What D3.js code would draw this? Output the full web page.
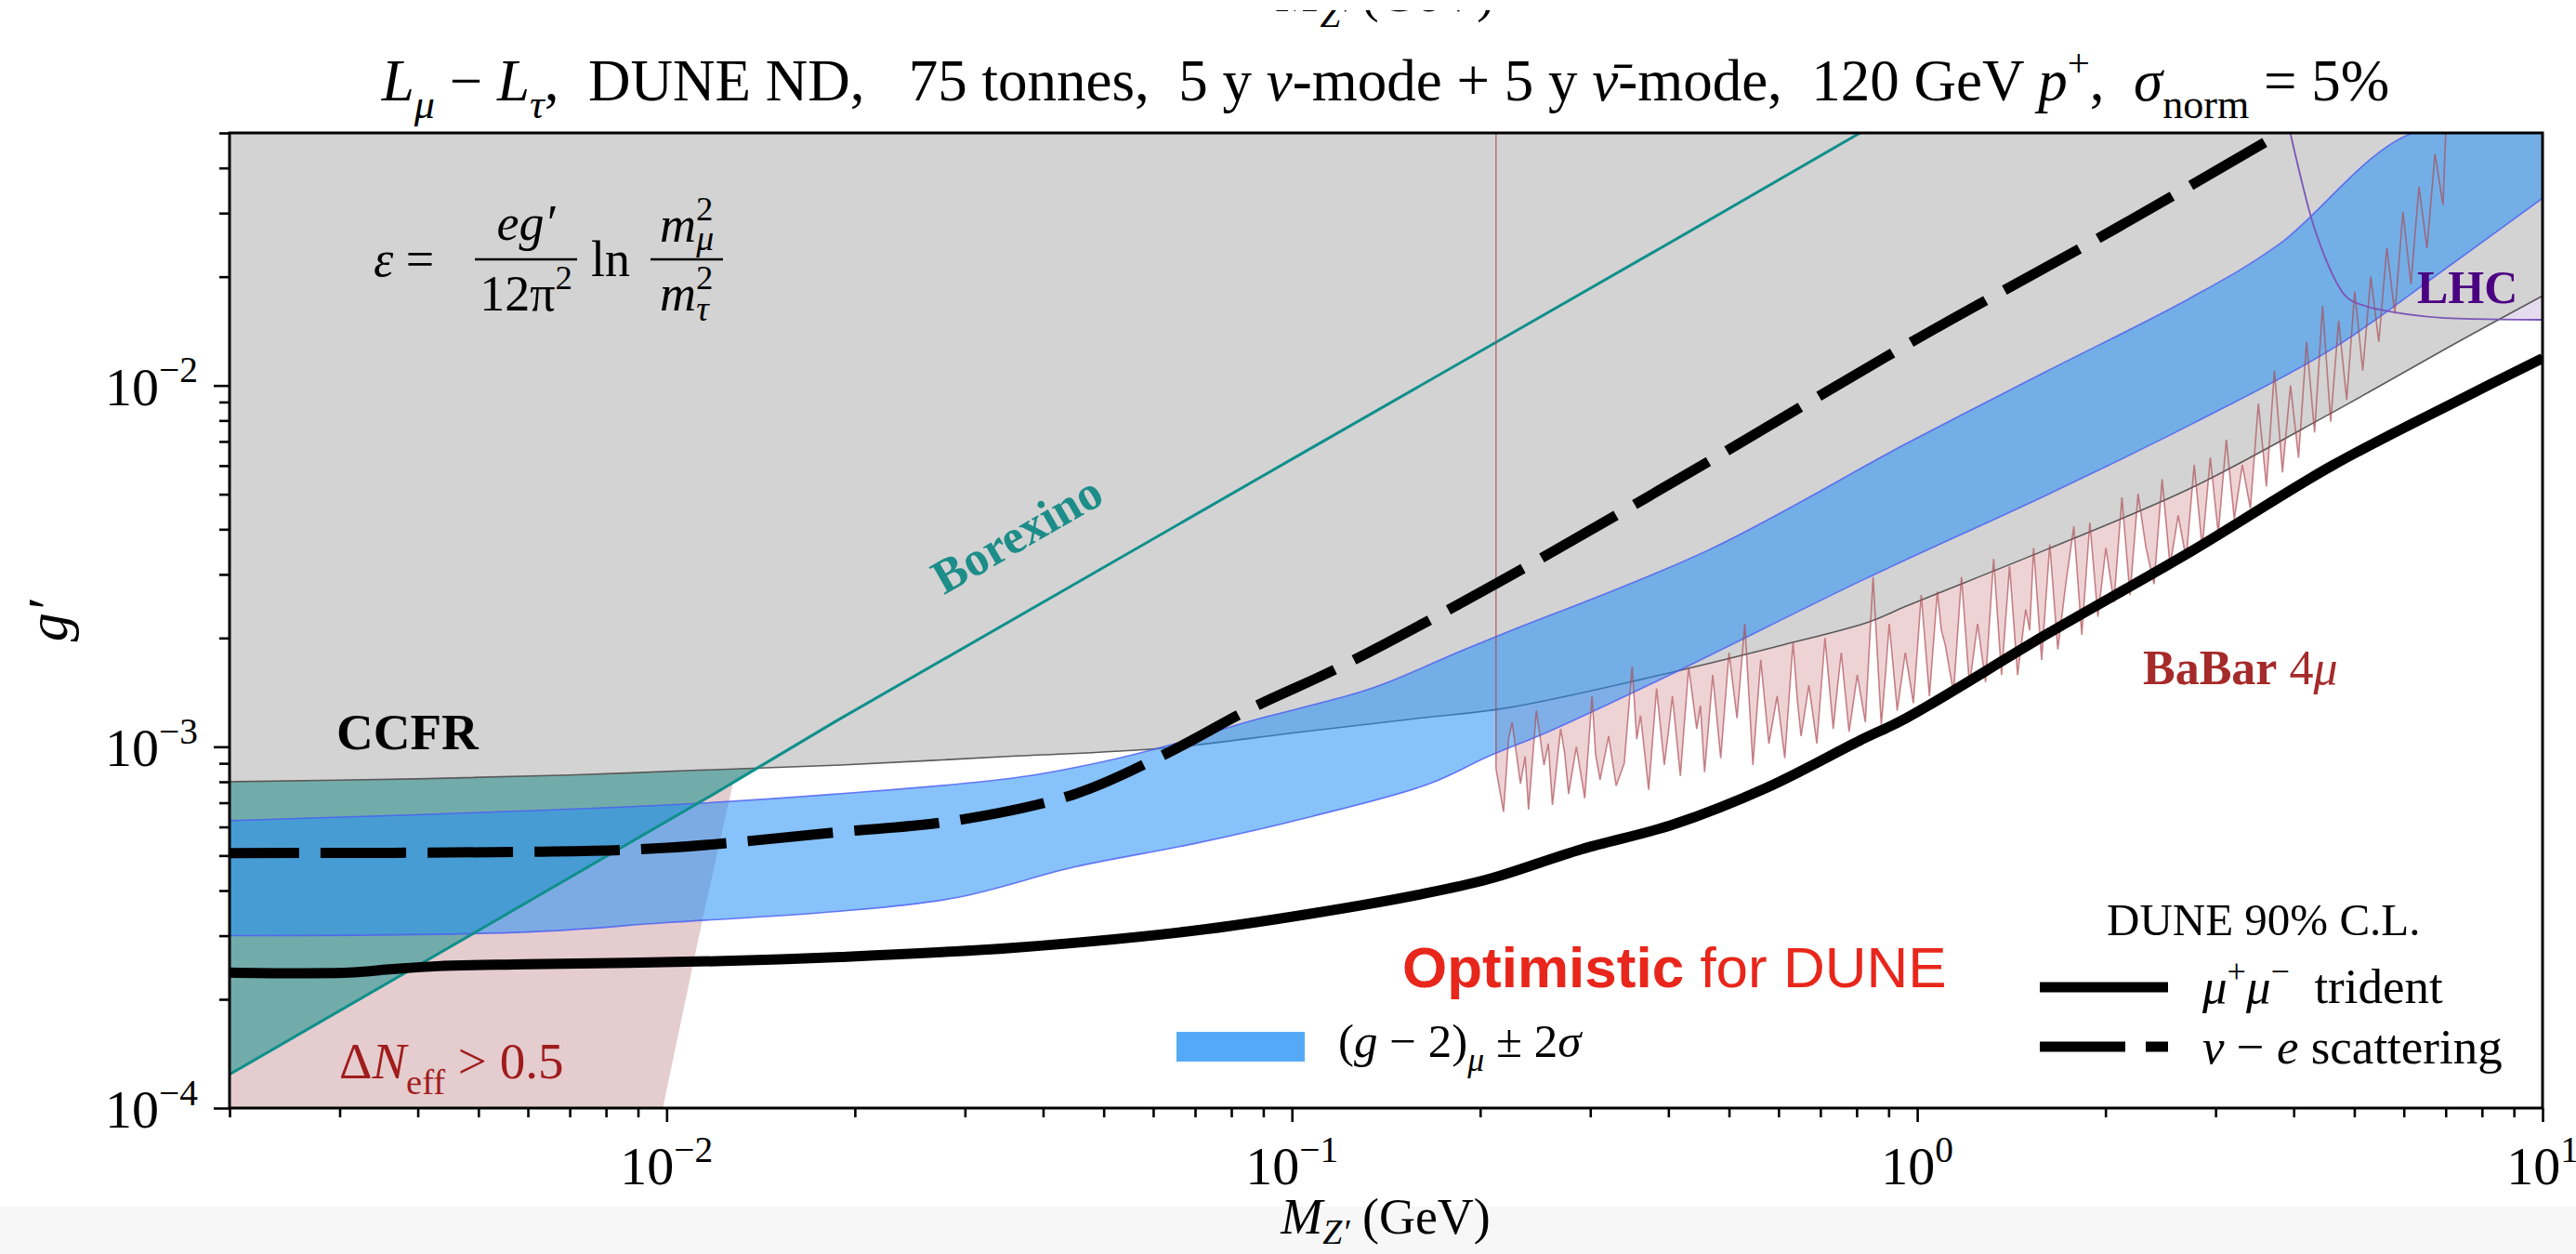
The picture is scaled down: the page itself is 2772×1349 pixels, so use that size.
<!DOCTYPE html>
<html><head><meta charset="utf-8">
<script src="https://cdn.jsdelivr.net/npm/d3@7"></script>
<style>body{margin:0;background:#fff}svg{display:block}</style>
</head><body>
<svg id="chart" width="2772" height="1349"></svg>
<script>
// ---------------- data ----------------
const xDomain = [0.002, 10];
const yDomain = [1e-4, 0.05];
const xMajorTicks = [0.01, 0.1, 1, 10];
const xTickExp = ["\u22122", "\u22121", "0", "1"];
const yMajorTicks = [1e-4, 1e-3, 1e-2];
const yTickExp = ["\u22124", "\u22123", "\u22122"];

// lower edge of the grey (CCFR + others) excluded region
const greyEdge = [[0.002,8.0e-4],[0.004,8.15e-4],[0.007,8.35e-4],[0.011,8.6e-4],[0.019,8.9e-4],[0.035,9.4e-4],[0.062,9.9e-4],[0.104,1.1e-3],[0.16,1.2e-3],[0.22,1.28e-3],[0.37,1.55e-3],[0.6,1.9e-3],[0.84,2.22e-3],[0.96,2.45e-3],[1.6,3.5e-3],[2.74,5.2e-3],[4.6,8.4e-3],[7.5,1.35e-2],[10,1.77e-2]];
// (g-2)_mu +- 2 sigma band
const g2Upper = [[0.002,6.25e-4],[0.01,6.9e-4],[0.0187,7.4e-4],[0.036,8.2e-4],[0.05,9.1e-4],[0.065,1.02e-3],[0.086,1.18e-3],[0.134,1.45e-3],[0.186,1.84e-3],[0.22,2.07e-3],[0.463,3.5e-3],[0.96,6.9e-3],[1.62,1.1e-2],[2.74,1.75e-2],[3.78,2.45e-2],[6.2,5.0e-2],[10,5.0e-2]];
const g2Lower = [[0.002,3.0e-4],[0.006,3.07e-4],[0.01,3.26e-4],[0.0187,3.5e-4],[0.029,3.82e-4],[0.045,4.65e-4],[0.07,5.4e-4],[0.107,6.4e-4],[0.166,7.9e-4],[0.206,9.4e-4],[0.257,1.1e-3],[0.408,1.6e-3],[0.82,2.9e-3],[1.62,5.0e-3],[2.74,7.8e-3],[4.6,1.26e-2],[6.85,2.05e-2],[10,3.3e-2]];
// DUNE 90% C.L. curves
const trident = [[0.002,2.37e-4],[0.0031,2.37e-4],[0.0036,2.42e-4],[0.0043,2.47e-4],[0.006,2.5e-4],[0.012,2.55e-4],[0.019,2.62e-4],[0.036,2.78e-4],[0.07,3.1e-4],[0.107,3.45e-4],[0.16,3.9e-4],[0.206,4.3e-4],[0.29,5.2e-4],[0.408,6.1e-4],[0.574,7.7e-4],[0.809,1.04e-3],[0.96,1.2e-3],[1.62,2.06e-3],[2.74,3.47e-3],[4.61,6.0e-3],[7.48,9.25e-3],[10,1.19e-2]];
const nuE = [[0.002,5.08e-4],[0.006,5.12e-4],[0.01,5.25e-4],[0.0187,5.8e-4],[0.029,6.25e-4],[0.045,7.4e-4],[0.0624,9.5e-4],[0.0863,1.28e-3],[0.12,1.67e-3],[0.22,2.93e-3],[0.463,6.15e-3],[0.98,1.32e-2],[2.07,2.71e-2],[3.66,4.79e-2]];
// Borexino bound
const borexino = [[0.002,1.24e-4],[0.005,3.1e-4],[0.0119,7.4e-4],[0.0187,1.18e-3],[0.104,6.5e-3],[0.4,2.47e-2],[0.81,5.0e-2]];
// Delta N_eff > 0.5 region (right boundary)
const deltaNeff = [[0.002,1e-4],[0.00986,1e-4],[0.0114,3.3e-4],[0.0127,7.6e-4],[0.0131,9.5e-4],[0.002,9.5e-4]];
// LHC bound
const lhc = [[3.95,5.0e-2],[4.1,3.8e-2],[4.26,2.94e-2],[4.5,2.24e-2],[4.87,1.75e-2],[5.2,1.66e-2],[5.73,1.6e-2],[7.5,1.53e-2],[10,1.52e-2]];
// BaBar 4mu bound (jagged)
const babar = [
[0.212,8.7e-4],[0.218,6.6e-4],[0.222,1.05e-3],[0.225,1.17e-3],[0.232,7.9e-4],[0.236,9.4e-4],[0.239,6.7e-4],[0.246,1.26e-3],[0.253,8.9e-4],[0.257,1.02e-3],[0.261,6.9e-4],[0.269,1.12e-3],[0.273,9.6e-4],[0.277,7.4e-4],
[0.285,1.0e-3],[0.294,7.2e-4],[0.302,1.38e-3],[0.306,9.5e-4],[0.311,8.1e-4],[0.321,1.07e-3],[0.330,7.8e-4],[0.340,9.0e-4],[0.350,1.67e-3],[0.356,1.05e-3],[0.361,1.22e-3],[0.372,7.6e-4],
[0.383,1.45e-3],[0.394,8.9e-4],[0.400,1.1e-3],[0.406,1.38e-3],[0.418,8.3e-4],[0.431,1.66e-3],[0.444,1.12e-3],[0.450,1.3e-3],[0.457,8.5e-4],[0.471,1.58e-3],[0.485,9.3e-4],[0.500,1.82e-3],
[0.515,1.20e-3],[0.530,2.19e-3],[0.546,8.9e-4],[0.554,1.25e-3],[0.562,1.74e-3],[0.579,1.02e-3],[0.597,1.38e-3],[0.614,9.3e-4],[0.633,1.95e-3],[0.643,1.35e-3],[0.652,1.07e-3],[0.671,1.48e-3],
[0.691,1.02e-3],[0.712,2.0e-3],[0.734,1.12e-3],[0.745,1.45e-3],[0.756,1.82e-3],[0.778,1.10e-3],[0.802,1.58e-3],[0.826,1.17e-3],[0.850,2.95e-3],[0.876,1.15e-3],[0.890,1.6e-3],[0.902,2.19e-3],
[0.929,1.26e-3],[0.957,1.82e-3],[0.986,1.32e-3],[1.015,2.63e-3],[1.046,1.38e-3],[1.077,2.69e-3],[1.093,2.1e-3],[1.109,1.91e-3],[1.143,1.41e-3],[1.177,2.95e-3],[1.212,1.48e-3],
[1.249,2.19e-3],[1.286,1.51e-3],[1.325,3.31e-3],[1.364,1.58e-3],[1.405,3.16e-3],[1.447,1.58e-3],[1.491,2.40e-3],[1.513,2.1e-3],[1.535,3.55e-3],[1.581,1.74e-3],[1.629,3.63e-3],
[1.678,1.86e-3],[1.728,2.82e-3],[1.780,4.07e-3],[1.833,2.04e-3],[1.888,4.17e-3],[1.945,2.29e-3],[2.003,3.55e-3],[2.063,2.51e-3],[2.125,4.90e-3],[2.189,2.63e-3],
[2.255,5.01e-3],[2.322,3.55e-3],[2.392,2.82e-3],[2.464,5.50e-3],[2.537,3.16e-3],[2.614,4.37e-3],[2.692,3.31e-3],[2.773,6.03e-3],[2.856,3.55e-3],[2.942,6.31e-3],
[3.030,3.89e-3],[3.121,7.08e-3],[3.214,4.27e-3],[3.311,6.03e-3],[3.410,4.57e-3],[3.512,8.91e-3],[3.618,5.25e-3],[3.726,1.10e-2],[3.838,5.75e-3],[3.953,1.0e-2],
[4.072,6.31e-3],[4.194,1.32e-2],[4.320,7.41e-3],[4.449,1.66e-2],[4.583,7.94e-3],[4.720,1.51e-2],[4.862,9.12e-3],[5.008,1.82e-2],[5.158,1.10e-2],[5.313,2.0e-2],
[5.472,1.32e-2],[5.636,2.40e-2],[5.805,1.58e-2],[5.980,3.02e-2],[6.159,1.91e-2],[6.344,3.55e-2],[6.534,2.40e-2],[6.730,4.37e-2],[6.932,3.16e-2],[7.0,5.0e-2]
];

// ---------------- drawing ----------------
const SERIF = "'Liberation Serif','DejaVu Serif',serif";
const SANS = "'Liberation Sans',Arial,sans-serif";
const L = 247, R = 2736, T = 143, B = 1192;
const svg = d3.select("#chart");
svg.append("rect").attr("width",2772).attr("height",1349).attr("fill","#fff");
svg.append("rect").attr("x",0).attr("y",1298).attr("width",2772).attr("height",51).attr("fill","#f7f7f7");

const x = d3.scaleLog().domain(xDomain).range([L, R]);
const y = d3.scaleLog().domain(yDomain).range([B, T]);
const yTop = yDomain[1], xRight = xDomain[1], xLeft = xDomain[0];

svg.append("defs").append("clipPath").attr("id","plotclip")
  .append("rect").attr("x",L).attr("y",T).attr("width",R-L).attr("height",B-T);
const g = svg.append("g").attr("clip-path","url(#plotclip)");

const lin = d3.line().x(d=>x(d[0])).y(d=>y(d[1]));
const smooth = d3.line().x(d=>x(d[0])).y(d=>y(d[1])).curve(d3.curveCatmullRom.alpha(0.5));
const mono = d3.line().x(d=>x(d[0])).y(d=>y(d[1])).curve(d3.curveMonotoneX);

// Delta N_eff
g.append("path").attr("d", lin(deltaNeff)+"Z").attr("fill","#e5ccce");
// BaBar fill
g.append("path").attr("d", lin([[babar[0][0], yTop], ...babar, [babar[babar.length-1][0], yTop]])+"Z")
  .attr("fill","rgb(200,110,115)").attr("fill-opacity",0.3);
// LHC fill
g.append("path").attr("d", mono([...lhc]) + "L"+x(xRight)+","+y(yTop)+"Z").attr("fill","#e6dcf0");
// Borexino excluded (teal)
g.append("path").attr("d", lin([...borexino, [xLeft, yTop]])+"Z").attr("fill","#72acaa");
// grey region
g.append("path").attr("d", smooth(greyEdge) + "L"+x(xRight)+","+y(yTop)+"L"+x(xLeft)+","+y(yTop)+"Z").attr("fill","#d3d3d3");
g.append("path").attr("d", smooth(greyEdge)).attr("fill","none").attr("stroke","#5a5a5a").attr("stroke-width",1.6);
// g-2 band
const bandPath = smooth(g2Upper) + "L" + smooth(g2Lower.slice().reverse()).slice(1) + "Z";
g.append("path").attr("d", bandPath).attr("fill","rgb(38,144,246)").attr("fill-opacity",0.55);
g.append("path").attr("d", smooth(g2Upper)).attr("fill","none").attr("stroke","#4a5cf2").attr("stroke-width",1.6).attr("stroke-opacity",0.8);
g.append("path").attr("d", smooth(g2Lower)).attr("fill","none").attr("stroke","#4a5cf2").attr("stroke-width",1.6).attr("stroke-opacity",0.8);
// Borexino line
g.append("path").attr("d", lin(borexino)).attr("fill","none").attr("stroke","#0f8f8b").attr("stroke-width",3);
// BaBar line
g.append("path").attr("d", lin([[babar[0][0], yTop], ...babar])).attr("fill","none")
  .attr("stroke","rgb(170,70,78)").attr("stroke-opacity",0.65).attr("stroke-width",1.6);
// LHC line
g.append("path").attr("d", mono(lhc)).attr("fill","none").attr("stroke","#7b55b8").attr("stroke-width",1.8);
// DUNE curves
g.append("path").attr("d", smooth(nuE)).attr("fill","none").attr("stroke","#000").attr("stroke-width",11)
  .attr("stroke-dasharray","92 23").attr("stroke-dashoffset",17);
g.append("path").attr("d", smooth(trident)).attr("fill","none").attr("stroke","#000").attr("stroke-width",11);

// ---------------- axes ----------------
const minorX = [], minorY = [];
for (let e=-3; e<=1; e++) for (let m=2; m<=9; m++) { const v=m*Math.pow(10,e); if (v>=xDomain[0]*0.999 && v<=xDomain[1]) minorX.push(v); }
for (let e=-4; e<=-2; e++) for (let m=2; m<=9; m++) { const v=m*Math.pow(10,e); if (v>=yDomain[0] && v<=yDomain[1]*1.001) minorY.push(v); }

const axB = svg.append("g").attr("transform",`translate(0,${B})`);
axB.call(d3.axisBottom(x).tickValues(xMajorTicks).tickSize(15).tickFormat(""));
axB.append("g").call(d3.axisBottom(x).tickValues(minorX).tickSize(10).tickFormat(""));
const axL = svg.append("g").attr("transform",`translate(${L},0)`);
axL.call(d3.axisLeft(y).tickValues(yMajorTicks).tickSize(17).tickFormat(""));
axL.append("g").call(d3.axisLeft(y).tickValues(minorY).tickSize(11).tickFormat(""));
svg.selectAll(".domain").remove();
axB.selectAll(".tick line").attr("stroke","#000").attr("stroke-width",2.6);
axL.selectAll(".tick line").attr("stroke","#000").attr("stroke-width",2.6);
svg.append("rect").attr("x",L).attr("y",T).attr("width",R-L).attr("height",B-T)
  .attr("fill","none").attr("stroke","#000").attr("stroke-width",3);

// rich text helper
function rich(parent, px, py, segs, o) {
  const size = o.size;
  const t = parent.append("text").attr("x",px).attr("y",py)
    .attr("font-family", o.family || SERIF).attr("font-size", size)
    .attr("text-anchor", o.anchor || "start").attr("fill", o.fill || "#000")
    .attr("font-weight", o.weight || "normal").style("white-space","pre");
  if (o.transform) t.attr("transform", o.transform);
  let cur = 0;
  segs.forEach(s => {
    const sp = t.append("tspan").text(s.t);
    let shift = 0, fs = size;
    if (s.sub) { shift = size*(o.subShift || 0.3); fs = size*0.7; }
    if (s.sup) { shift = -size*0.42; fs = size*0.68; }
    sp.attr("font-size", fs).attr("dy", shift - cur);
    cur = shift;
    if (s.dx) sp.attr("dx", s.dx);
    if (s.it) sp.attr("font-style","italic");
    if (s.w) sp.attr("font-weight", s.w);
  });
  return t;
}

// tick labels
xMajorTicks.forEach((v,i) => rich(svg, x(v), 1274, [{t:"10"},{t:xTickExp[i],sup:1}], {size:58, anchor:"middle"}));
yMajorTicks.forEach((v,i) => rich(svg, 213, y(v)+21, [{t:"10"},{t:yTickExp[i],sup:1}], {size:58, anchor:"end"}));

// axis titles
rich(svg, 1491, 1327, [{t:"M",it:1},{t:"Z\u2032",it:1,sub:1},{t:" (GeV)"}], {size:54, anchor:"middle", subShift:0.2});
rich(svg, 0, 0, [{t:"g\u2032",it:1}], {size:62, anchor:"middle", transform:"translate(72,668) rotate(-90)"});
// clipped label from the figure above
rich(svg, 1491, 12, [{t:"M",it:1},{t:"Z\u2032",it:1,sub:1},{t:" (GeV)"}], {size:56, anchor:"middle"});
svg.append("rect").attr("x",1300).attr("y",0).attr("width",400).attr("height",11).attr("fill","#fff");

// title
rich(svg, 1491, 108, [
  {t:"L",it:1},{t:"\u03bc",it:1,sub:1},{t:" \u2212 "},{t:"L",it:1},{t:"\u03c4",it:1,sub:1},
  {t:",  DUNE ND,   75 tonnes,  5 y "},{t:"\u03bd",it:1},{t:"-mode + 5 y "},{t:"\u03bd\u0304",it:1},
  {t:"-mode,  120 GeV "},{t:"p",it:1},{t:"+",sup:1},{t:",  "},{t:"\u03c3",it:1},{t:"norm",sub:1},{t:" = 5%"}
], {size:63, anchor:"middle"});

// formula
rich(svg, 402, 297, [{t:"\u03b5",it:1},{t:" ="}], {size:54});
rich(svg, 566, 258, [{t:"eg\u2032",it:1}], {size:54, anchor:"middle"});
svg.append("line").attr("x1",511).attr("x2",621).attr("y1",279).attr("y2",279).attr("stroke","#000").attr("stroke-width",2.5);
rich(svg, 566, 334, [{t:"12\u03c0"},{t:"2",sup:1}], {size:54, anchor:"middle"});
rich(svg, 636, 297, [{t:"ln"}], {size:54});
rich(svg, 710, 260, [{t:"m",it:1},{t:"2",sup:1},{t:"\u03bc",it:1,sub:1,dx:-18}], {size:54, subShift:0.17});
svg.append("line").attr("x1",700).attr("x2",778).attr("y1",279).attr("y2",279).attr("stroke","#000").attr("stroke-width",2.5);
rich(svg, 710, 334, [{t:"m",it:1},{t:"2",sup:1},{t:"\u03c4",it:1,sub:1,dx:-18}], {size:54, subShift:0.2});

// region labels
rich(svg, 362, 806, [{t:"CCFR"}], {size:55, weight:"bold"});
rich(svg, 0, 0, [{t:"Borexino"}], {size:52, weight:"bold", fill:"#1d8d89", anchor:"middle", transform:"translate(1103,590) rotate(-30)"});
rich(svg, 365, 1160, [{t:"\u0394"},{t:"N",it:1},{t:"eff",sub:1},{t:" > 0.5"}], {size:55, fill:"#a01c1c"});
rich(svg, 2306, 736, [{t:"BaBar",w:"bold"},{t:" 4"},{t:"\u03bc",it:1}], {size:52, fill:"#a52a2a"});
rich(svg, 2601, 326, [{t:"LHC"}], {size:50, weight:"bold", fill:"#4b0082"});

// optimistic note
rich(svg, 1509, 1062, [{t:"Optimistic",w:"bold"},{t:" for DUNE"}], {size:62, family:SANS, fill:"#e8261b"});

// g-2 legend
svg.append("rect").attr("x",1266).attr("y",1110).attr("width",138).attr("height",32).attr("fill","#55aaf8");
rich(svg, 1440, 1137, [{t:"("},{t:"g",it:1},{t:" \u2212 2)"},{t:"\u03bc",it:1,sub:1},{t:" \u00b1 2"},{t:"\u03c3",it:1}], {size:51});

// DUNE legend
rich(svg, 2267, 1006, [{t:"DUNE 90% C.L."}], {size:49});
svg.append("line").attr("x1",2195).attr("x2",2333).attr("y1",1062).attr("y2",1062).attr("stroke","#000").attr("stroke-width",11);
rich(svg, 2370, 1079, [{t:"\u03bc",it:1},{t:"+",sup:1},{t:"\u03bc",it:1},{t:"\u2212",sup:1},{t:"  trident"}], {size:53});
svg.append("line").attr("x1",2195).attr("x2",2333).attr("y1",1126).attr("y2",1126).attr("stroke","#000").attr("stroke-width",11).attr("stroke-dasharray","92 22");
rich(svg, 2370, 1144, [{t:"\u03bd",it:1},{t:" \u2212 "},{t:"e",it:1},{t:" scattering"}], {size:53});
</script>
</body></html>
